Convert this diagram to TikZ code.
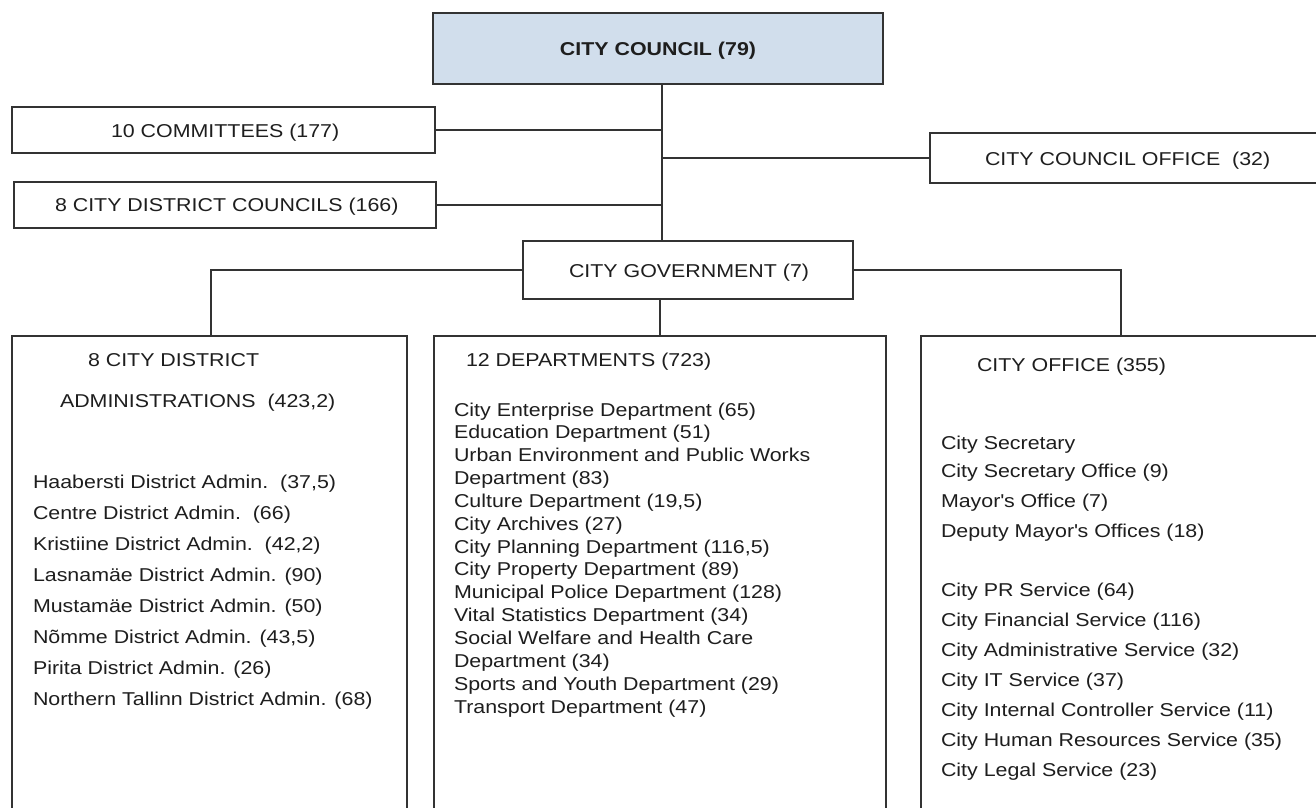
\documentclass[tikz,border=0pt]{standalone}
\usepackage{fontspec}
\setmainfont{Liberation Sans}[FakeStretch=1.15]
\definecolor{ln}{HTML}{333333}
\definecolor{councilfill}{HTML}{D1DEEC}
\definecolor{txt}{HTML}{1E1E1E}
\begin{document}
\begin{tikzpicture}[x=1pt,y=-1pt,
  box/.style={draw=ln,line width=1.6pt,inner sep=0pt,outer sep=0pt},
  conn/.style={draw=ln,line width=1.6pt},
  lbl/.style={font=\fontsize{18.6}{22}\selectfont,text=txt,inner sep=0pt,outer sep=0pt,anchor=base west}]
\useasboundingbox (0,0) rectangle (1316,807);
\fill[white] (0,0) rectangle (1316,807);
\clip (0,0) rectangle (1316,807);
% boxes
\node[box,fill=councilfill,minimum width=450pt,minimum height=71pt] (council) at (658,48.5) {};
\node[box,minimum width=423pt,minimum height=46pt] (comm) at (223.5,130) {};
\node[box,minimum width=422pt,minimum height=46pt] (dcc) at (225,205) {};
\node[box,minimum width=400pt,minimum height=50pt] (cco) at (1130,158) {};
\node[box,minimum width=330pt,minimum height=58pt] (gov) at (688,270) {};
\node[box,minimum width=395pt,minimum height=494pt] (left) at (209.5,583) {};
\node[box,minimum width=452pt,minimum height=494pt] (mid) at (660,583) {};
\node[box,minimum width=419pt,minimum height=494pt] (right) at (1130.5,583) {};
% connectors
\coordinate (trunk) at (662,0);
\draw[conn] (council.south -| trunk) -- (gov.north -| trunk);
\draw[conn] (comm.east) -- (comm.east -| trunk);
\draw[conn] (cco.west -| trunk) -- (cco.west);
\draw[conn] (dcc.east) -- (dcc.east -| trunk);
\draw[conn] (gov.west) -| ([xshift=1.5pt]left.north);
\draw[conn] (gov.east) -| ([xshift=-9.5pt]right.north);
\draw[conn] (gov.south -| mid.north) -- (mid.north);
% labels
\node[lbl,font=\fontsize{18.6}{22}\selectfont\bfseries,anchor=base] (tcouncil) at (658,55) {CITY COUNCIL (79)};
\node[lbl] (tcomm) at (111,137) {10 COMMITTEES (177)};
\node[lbl] (tdcc) at (55,211) {8 CITY DISTRICT COUNCILS (166)};
\node[lbl] (tcco) at (985,165) {CITY COUNCIL OFFICE\ \ (32)};
\node[lbl] (tgov) at (569,277) {CITY GOVERNMENT (7)};
% left column
\node[lbl] (lh1) at (88,366) {8 CITY DISTRICT};
\node[lbl] (lh2) at (60,407) {ADMINISTRATIONS\ \ (423,2)};
\foreach \t [count=\i from 0] in {{Haabersti District Admin.\ \ (37,5)},{Centre District Admin.\ \ (66)},{Kristiine District Admin.\ \ (42,2)},{Lasnamäe District Admin. (90)},{Mustamäe District Admin. (50)},{Nõmme District Admin. (43,5)},{Pirita District Admin. (26)},{Northern Tallinn District Admin. (68)}}
  \node[lbl] (l\i) at (33,488+\i*31) {\t};
% middle column
\node[lbl] (mh) at (466,366) {12 DEPARTMENTS (723)};
\foreach \t [count=\i from 0] in {{City Enterprise Department (65)},{Education Department (51)},{Urban Environment and Public Works},{Department (83)},{Culture Department (19,5)},{City Archives (27)},{City Planning Department (116,5)},{City Property Department (89)},{Municipal Police Department (128)},{Vital Statistics Department (34)},{Social Welfare and Health Care},{Department (34)},{Sports and Youth Department (29)},{Transport Department (47)}}
  \node[lbl] (m\i) at (454,416+\i*22.85) {\t};
% right column
\node[lbl] (rh) at (977,371) {CITY OFFICE (355)};
\node[lbl] (r0) at (941,449) {City Secretary};
\node[lbl] (r1) at (941,477) {City Secretary Office (9)};
\node[lbl] (r2) at (941,507) {Mayor\textquotesingle s Office (7)};
\node[lbl] (r3) at (941,537) {Deputy Mayor\textquotesingle s Offices (18)};
\foreach \t [count=\i from 0] in {{City PR Service (64)},{City Financial Service (116)},{City Administrative Service (32)},{City IT Service (37)},{City Internal Controller Service (11)},{City Human Resources Service (35)},{City Legal Service (23)}}
  \node[lbl] (s\i) at (941,596+\i*30) {\t};
\end{tikzpicture}
\end{document}
